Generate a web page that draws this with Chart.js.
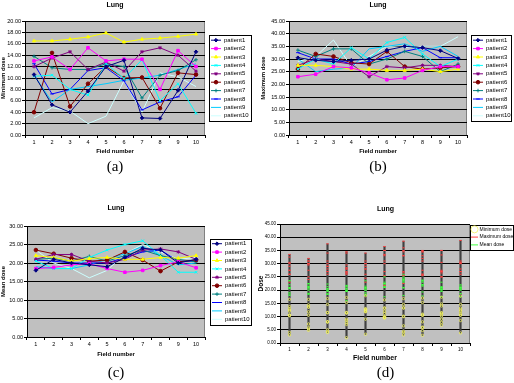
<!DOCTYPE html>
<html><head><meta charset="utf-8">
<script src="https://cdn.jsdelivr.net/npm/chart.js@4/dist/chart.umd.min.js"></script>
<style>
html,body{margin:0;padding:0;background:#fff;width:514px;height:383px;overflow:hidden;position:relative}
canvas{position:absolute}
</style></head><body>
<canvas id="ca" width="257" height="185" style="left:0;top:0;width:257px;height:185px"></canvas>
<canvas id="cb" width="257" height="185" style="left:257px;top:0;width:257px;height:185px"></canvas>
<canvas id="cc" width="257" height="193" style="left:0;top:190px;width:257px;height:193px"></canvas>
<canvas id="cd" width="257" height="193" style="left:257px;top:190px;width:257px;height:193px"></canvas>
<script>
// ---------- data ----------
const fieldLabels = ['1','2','3','4','5','6','7','8','9','10'];
const patientNames = ['patient1','patient2','patient3','patient4','patient5','patient6','patient7','patient8','patient9','patient10'];
const doseTypes = ['Minimum dose','Maximum dose','Mean dose'];

const minDose = [
  [10.6, 5.3, 4.0, 7.7, 12.0, 13.1, 3.0, 2.9, 7.8, 14.6],
  [13.0, 13.7, 11.5, 15.3, 13.0, 13.3, 13.3, 8.0, 14.8, 12.0],
  [16.5, 16.5, 16.8, 17.2, 17.9, 16.3, 16.8, 17.0, 17.3, 17.7],
  [10.3, 10.5, 8.0, 7.0, 12.5, 9.9, 13.2, 6.0, 9.0, 3.8],
  [12.0, 13.5, 14.6, 11.5, 12.8, 11.2, 14.6, 15.3, 14.0, 11.2],
  [4.0, 14.4, 5.0, 9.0, 12.0, 10.0, 10.1, 4.7, 10.9, 10.6],
  [13.8, 11.8, 11.5, 11.5, 12.5, 12.0, 6.5, 10.5, 11.3, 13.2],
  [12.5, 7.2, 8.0, 11.3, 11.8, 9.5, 4.4, 5.8, 6.7, 10.5],
  [10.5, 5.8, 8.0, 8.5, 9.0, 9.6, 10.0, 10.5, 11.5, 12.5],
  [3.0, 4.8, 4.2, 2.0, 3.3, 9.5, 4.0, 10.9, 10.2, 8.5]
];
const maxDose = [
  [30.5, 29.5, 29.0, 29.5, 30.0, 33.5, 35.0, 34.5, 33.3, 30.2],
  [23.0, 24.0, 27.0, 26.5, 24.5, 21.8, 22.5, 25.5, 27.0, 27.0],
  [27.5, 27.5, 27.0, 26.0, 26.0, 25.5, 25.5, 26.0, 25.0, 26.0],
  [26.0, 30.0, 28.0, 34.5, 30.0, 36.5, 38.5, 32.0, 27.0, 30.0],
  [27.5, 30.0, 29.0, 28.0, 23.0, 27.0, 26.5, 27.5, 27.5, 27.0],
  [26.0, 32.0, 31.0, 28.5, 28.0, 33.0, 27.0, 26.0, 26.5, 27.0],
  [33.5, 31.0, 34.0, 34.0, 28.0, 30.0, 33.0, 31.0, 25.0, 28.0],
  [32.5, 30.0, 30.0, 28.0, 29.0, 31.0, 33.0, 34.5, 30.5, 30.5],
  [30.0, 25.0, 26.0, 26.5, 34.0, 35.0, 36.0, 33.0, 35.0, 31.0],
  [29.0, 31.0, 37.5, 27.0, 31.0, 35.0, 34.5, 35.0, 35.0, 38.8]
];
const meanDose = [
  [18.0, 21.0, 20.0, 19.5, 19.0, 21.5, 24.0, 23.5, 20.0, 21.0],
  [18.5, 18.8, 19.5, 19.8, 18.5, 17.5, 18.0, 19.3, 20.3, 18.7],
  [22.0, 21.5, 20.5, 21.2, 21.5, 21.0, 21.0, 21.5, 21.3, 22.0],
  [20.5, 18.5, 18.5, 21.5, 23.5, 25.0, 26.0, 22.0, 17.5, 17.5],
  [21.0, 22.3, 22.3, 20.5, 20.0, 21.0, 23.5, 23.8, 23.0, 21.0],
  [23.5, 22.5, 21.3, 20.5, 20.8, 23.0, 20.8, 17.8, 20.3, 20.8],
  [21.0, 21.3, 20.5, 21.8, 20.5, 22.0, 23.5, 22.0, 21.0, 20.3],
  [20.8, 20.5, 20.0, 20.0, 20.0, 21.5, 23.0, 23.5, 20.5, 20.5],
  [19.0, 18.5, 18.5, 19.5, 21.0, 22.5, 24.5, 22.0, 19.5, 20.0],
  [23.5, 20.0, 18.5, 16.0, 18.0, 22.5, 25.0, 23.0, 21.0, 21.5]
];

// ---------- styles ----------
Chart.defaults.font.family = "'Liberation Sans', Arial, sans-serif";
Chart.defaults.color = '#000';
const seriesColors = ['#000080','#ff00ff','#ffff00','#00ffff','#800080','#800000','#008080','#0000ff','#00ccff','#ccffff'];
const seriesMarkers = ['rectRot','rect','triangle','crossRot','star','circle','cross','line',null,null];

function framePlugin(cfg) {
  return {
    id: 'framePlugin',
    beforeLayout(chart) {
      const lg = chart.legend;
      if (!lg || lg._patched) return;
      lg._patched = true;
      const fit0 = lg.fit.bind(lg);
      lg.fit = function () { fit0(); this.width = cfg.legendW; };
      const draw0 = lg.draw.bind(lg);
      lg.draw = function () {
        const pad = this.options.labels.padding;
        const l = this.left, r = this.right;
        this.left = cfg.itemX - pad;
        this.right = Math.max(r, cfg.frameR);
        draw0();
        this.left = l; this.right = r;
      };
    },
    beforeDraw(chart) {
      const ctx = chart.ctx, a = chart.chartArea;
      ctx.save();
      ctx.fillStyle = '#c0c0c0';
      ctx.fillRect(a.left, a.top, a.right - a.left, a.bottom - a.top);
      ctx.strokeStyle = '#808080';
      ctx.lineWidth = 1;
      ctx.strokeRect(Math.round(a.left) + 0.5, Math.round(a.top) + 0.5, Math.round(a.right - a.left) - 1, Math.round(a.bottom - a.top));
      const hb = chart.legend.legendHitBoxes;
      if (hb && hb.length) {
        const t = hb[0].top - 2, b = hb[hb.length - 1].top + hb[hb.length - 1].height + 2;
        ctx.fillStyle = '#fff';
        ctx.fillRect(cfg.frameL, t, cfg.frameR - cfg.frameL, b - t);
        ctx.strokeStyle = '#000';
        ctx.strokeRect(cfg.frameL + 0.5, Math.round(t) + 0.5, cfg.frameR - cfg.frameL, Math.round(b - t));
      }
      ctx.restore();
    },
    afterDraw(chart) {
      if (!cfg.markers) return;
      const ctx = chart.ctx, lg = chart.legend;
      const fs = lg.options.labels.font.size;
      const bw = lg.options.labels.pointStyleWidth;
      lg.legendHitBoxes.forEach((hb, i) => {
        const ds = chart.data.datasets[i];
        if (!ds.pointRadius) return;
        ctx.save();
        ctx.fillStyle = ds.backgroundColor;
        ctx.strokeStyle = ds.borderColor;
        ctx.lineWidth = 1;
        Chart.helpers.drawPoint(ctx, {pointStyle: ds.pointStyle, radius: ds.pointRadius, borderWidth: 1, rotation: 0},
          cfg.itemX + bw / 2, hb.top + fs / 2);
        ctx.restore();
      });
    }
  };
}

function yAxis(max, step, title, width, titlePad, titleSize, tickSize) {
  return {
    min: 0, max: max,
    ticks: {stepSize: step, callback: v => Number(v).toFixed(2), font: {size: tickSize}, color: '#000', padding: 1},
    grid: {color: '#000', lineWidth: 1, tickLength: 3},
    border: {color: '#000'},
    title: {display: true, text: title, font: {size: titleSize, weight: 'bold'}, color: '#000', padding: {top: titlePad, bottom: 0}},
    afterFit: s => { s.width = width; }
  };
}
function xAxis(height, titleBottom, titleSize, tickSize) {
  return {
    type: 'category', offset: true,
    ticks: {font: {size: tickSize}, color: '#000', padding: 1, maxRotation: 0, autoSkip: false},
    grid: {offset: true, drawOnChartArea: false, tickLength: 3, color: '#000'},
    border: {color: '#000'},
    title: {display: true, text: 'Field number', font: {size: titleSize, weight: 'bold'}, color: '#000', padding: {top: 0, bottom: titleBottom}},
    afterFit: s => { s.height = height; }
  };
}

function linePanel(id, values, p) {
  const datasets = values.map((arr, i) => ({
    label: patientNames[i],
    data: arr,
    borderColor: seriesColors[i],
    backgroundColor: seriesColors[i],
    borderWidth: 1,
    pointStyle: seriesMarkers[i] || 'circle',
    pointRadius: seriesMarkers[i] ? 1.8 : 0,
    pointBorderWidth: 1,
    tension: 0
  }));
  new Chart(document.getElementById(id), {
    type: 'line',
    data: {labels: fieldLabels, datasets},
    options: {
      responsive: false, animation: false, events: [],
      layout: {padding: 0},
      scales: {x: xAxis(p.xH, p.xTitleB, 6, 5.5), y: yAxis(p.yMax, p.yStep, p.yTitle, p.yW, p.yTitlePad, 6, 5.5)},
      plugins: {
        title: {display: true, text: 'Lung', fullSize: false, font: {size: 7, weight: 'bold'}, color: '#000', padding: p.titlePad},
        subtitle: {display: true, text: p.caption, position: 'bottom', fullSize: false, font: {size: 15, family: "'Liberation Serif', serif", weight: 'normal'}, color: '#000', padding: p.capPad},
        legend: {position: 'right', align: 'center', fullSize: false,
          labels: {usePointStyle: true, pointStyle: 'line', pointStyleWidth: 10, font: {size: 6}, color: '#000', padding: 2.4}},
        tooltip: {enabled: false}
      }
    },
    plugins: [framePlugin({legendW: p.legendW, itemX: p.itemX, frameL: p.frameL, frameR: p.frameR, markers: true})]
  });
}

linePanel('ca', minDose, {caption: '(a)', yMax: 20, yStep: 2, yTitle: 'Minimum dose', yW: 25, yTitlePad: 0,
  xH: 23, xTitleB: 3.4, titlePad: {top: 1, bottom: 11.6}, capPad: {top: 0, bottom: 9},
  legendW: 52, itemX: 211, frameL: 209, frameR: 251});
linePanel('cb', maxDose, {caption: '(b)', yMax: 45, yStep: 5, yTitle: 'Maximum dose', yW: 32, yTitlePad: 3,
  xH: 23, xTitleB: 3.4, titlePad: {top: 1, bottom: 11.6}, capPad: {top: 0, bottom: 9},
  legendW: 47, itemX: 216, frameL: 214, frameR: 254});
linePanel('cc', meanDose, {caption: '(c)', yMax: 30, yStep: 5, yTitle: 'Mean dose', yW: 27, yTitlePad: 0,
  xH: 27, xTitleB: 6.4, titlePad: {top: 13.8, bottom: 13.8}, capPad: {top: 0, bottom: 1},
  legendW: 52, itemX: 212, frameL: 210, frameR: 251});

// ---------- panel (d) ----------
function pointsOf(values) {
  const pts = [];
  values.forEach(arr => arr.forEach((v, j) => pts.push({x: fieldLabels[j], y: v})));
  return pts;
}
const rangeData = fieldLabels.map((f, j) => [
  Math.min(...minDose.map(a => a[j])),
  Math.max(...maxDose.map(a => a[j]))
]);
new Chart(document.getElementById('cd'), {
  type: 'bar',
  data: {
    labels: fieldLabels,
    datasets: [
      {type: 'bar', label: 'range', data: rangeData, backgroundColor: '#404040', barThickness: 1.5, grouped: false, order: 10},
      {type: 'line', label: doseTypes[0], data: pointsOf(minDose), showLine: false, pointStyle: 'circle', pointRadius: 1.2,
        borderColor: '#f0f060', backgroundColor: 'rgba(0,0,0,0)', borderWidth: 0.8, order: 1},
      {type: 'line', label: doseTypes[1], data: pointsOf(maxDose), showLine: false, pointStyle: 'line', pointRadius: 1.2,
        borderColor: '#ff4040', backgroundColor: '#ff4040', borderWidth: 1, order: 1},
      {type: 'line', label: doseTypes[2], data: pointsOf(meanDose), showLine: false, pointStyle: 'line', pointRadius: 1.2,
        borderColor: '#40ff40', backgroundColor: '#40ff40', borderWidth: 1, order: 1}
    ]
  },
  options: {
    responsive: false, animation: false, events: [],
    layout: {padding: 0},
    scales: {x: xAxis(21, 1.8, 7, 4.5), y: yAxis(45, 5, 'Dose', 23, 0, 6.5, 4.5)},
    plugins: {
      title: {display: true, text: 'Lung', fullSize: true, font: {size: 7, weight: 'bold'}, color: '#000', padding: {top: 14.8, bottom: 10.8}},
      subtitle: {display: true, text: '(d)', position: 'bottom', fullSize: true, font: {size: 15, family: "'Liberation Serif', serif", weight: 'normal'}, color: '#000', padding: {top: 0, bottom: 1}},
      legend: {position: 'right', align: 'start', fullSize: false,
        labels: {usePointStyle: true, font: {size: 5}, color: '#000', padding: 2.8, filter: item => item.text !== 'range'}},
      tooltip: {enabled: false}
    }
  },
  plugins: [framePlugin({legendW: 44, itemX: 215, frameL: 213, frameR: 256, markers: false})]
});
</script>
</body></html>
